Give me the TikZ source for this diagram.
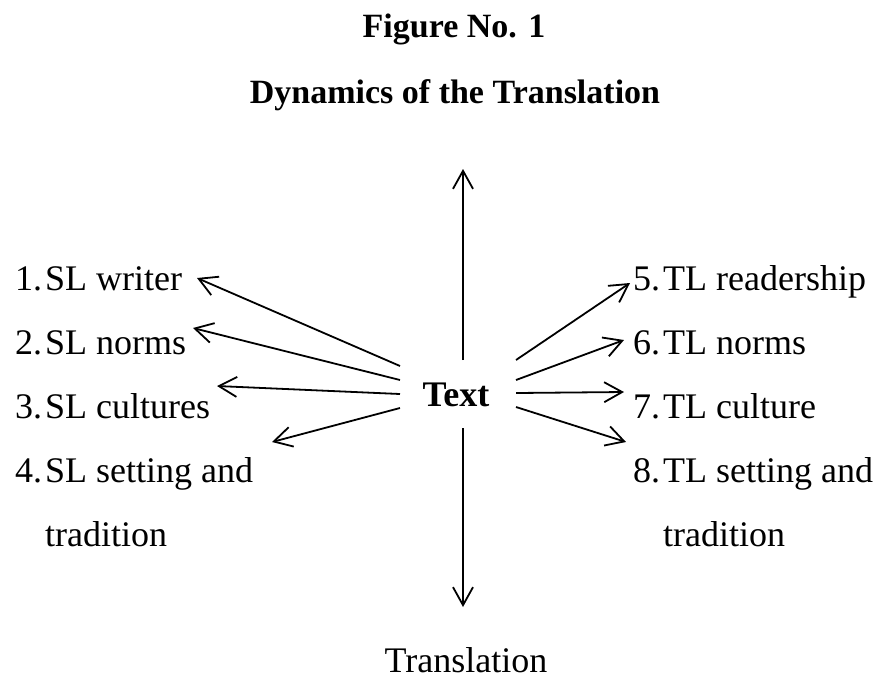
\documentclass[tikz,border=0pt]{standalone}
\usepackage{fontspec}
\setmainfont{Liberation Serif}
\usetikzlibrary{arrows.meta, positioning}
\tikzset{
    heading/.style={anchor=base, inner sep=0pt,
                    font=\fontsize{34}{40}\selectfont\bfseries},
    factor/.style={anchor=base west, inner sep=0pt,
                   font=\fontsize{36}{40}\selectfont},
    hub/.style={anchor=base, inner sep=0pt,
                font=\fontsize{36}{40}\selectfont\bfseries},
    result/.style={anchor=base, inner sep=0pt,
                   font=\fontsize{36}{40}\selectfont},
    flow/.style={-{Straight Barb[length=18pt, width=20pt]}, line width=1.8pt},
}
\newcommand{\itemno}[1]{\makebox[30pt][l]{#1}}

\begin{document}
\begin{tikzpicture}[x=1pt, y=-1pt]
    \useasboundingbox (0,0) rectangle (882,681);
    % headings
    \node[heading] (fig) at (454,37) {Figure No. 1};
    \node[heading] (dyn) at (455,103) {Dynamics of the Translation};
    % centre and result
    \node[hub] (txt) at (456,406) {Text};
    \node[result] (trans) at (466,672) {Translation};
    % source language side
    \node[factor] (sl1) at (15,290) {\itemno{1.}SL writer};
    \node[factor] (sl2) at (15,354) {\itemno{2.}SL norms};
    \node[factor] (sl3) at (15,418) {\itemno{3.}SL cultures};
    \node[factor] (sl4) at (15,482) {\itemno{4.}SL setting and};
    \node[factor] (sl4b) at (45,546) {tradition};
    % target language side
    \node[factor] (tl5) at (633,290) {\itemno{5.}TL readership};
    \node[factor] (tl6) at (633,354) {\itemno{6.}TL norms};
    \node[factor] (tl7) at (633,418) {\itemno{7.}TL culture};
    \node[factor] (tl8) at (633,482) {\itemno{8.}TL setting and};
    \node[factor] (tl8b) at (663,546) {tradition};
    % arrow ends
    \coordinate (up0) at (463,360);
    \coordinate (up1) at (463,169);
    \coordinate (dn0) at (463,428);
    \coordinate (dn1) at (463,607);
    \coordinate (ls1) at (400,366);
    \coordinate (ls2) at (400,380);
    \coordinate (ls3) at (400,394);
    \coordinate (ls4) at (400,408);
    \coordinate (lt1) at (197,278);
    \coordinate (lt2) at (193,328);
    \coordinate (lt3) at (217,386);
    \coordinate (lt4) at (272,442);
    \coordinate (rs5) at (516,360);
    \coordinate (rs6) at (516,380);
    \coordinate (rs7) at (516,393);
    \coordinate (rs8) at (516,407);
    \coordinate (rt5) at (630,283);
    \coordinate (rt6) at (624,340);
    \coordinate (rt7) at (624,392);
    \coordinate (rt8) at (626,442);
    \draw[flow] (up0) -- (up1);
    \draw[flow] (dn0) -- (dn1);
    \draw[flow] (ls1) -- (lt1);
    \draw[flow] (ls2) -- (lt2);
    \draw[flow] (ls3) -- (lt3);
    \draw[flow] (ls4) -- (lt4);
    \draw[flow] (rs5) -- (rt5);
    \draw[flow] (rs6) -- (rt6);
    \draw[flow] (rs7) -- (rt7);
    \draw[flow] (rs8) -- (rt8);
\end{tikzpicture}
\end{document}
